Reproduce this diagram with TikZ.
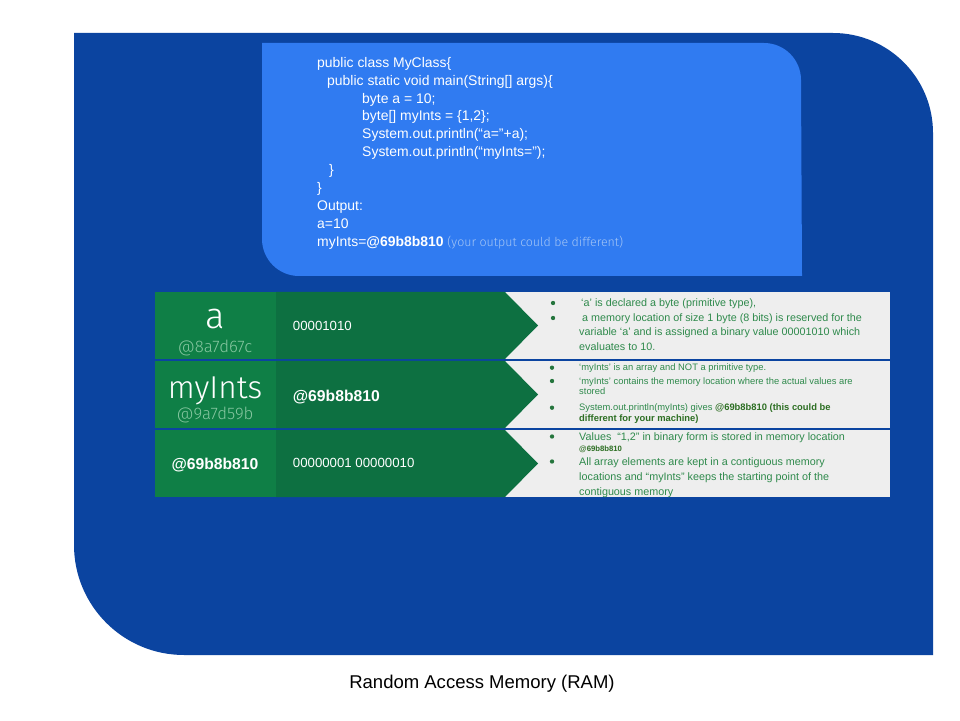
\documentclass[tikz,border=0pt]{standalone}
\usepackage{fontspec}
\setmainfont{Liberation Sans}
\IfFontExistsTF{Fira Sans Light}{\newfontfamily\lightfont{Fira Sans Light}}{%
  \IfFontExistsTF{Lato Light}{\newfontfamily\lightfont{Lato Light}}{%
    \newfontfamily\lightfont{Liberation Sans}}}

\definecolor{ramblue}{HTML}{0B44A0}
\definecolor{codeblue}{HTML}{307BF1}
\definecolor{namegreen}{HTML}{0F7F46}
\definecolor{valuegreen}{HTML}{0D7041}
\definecolor{notegray}{HTML}{EEEEEE}
\definecolor{notegreen}{HTML}{2F8A4C}
\definecolor{notedark}{HTML}{2C6E22}
\definecolor{dotgreen}{HTML}{25753D}
\definecolor{addrgreen}{HTML}{86C6A0}
\definecolor{hintblue}{HTML}{A5C6F6}

\newcommand{\fsz}[1]{\fontsize{#1}{#1}\selectfont}

\tikzset{
  codeline/.style={anchor=base west, inner sep=0, text=white, font=\fsz{11.9pt}},
  varname/.style={anchor=base, inner sep=0, text=white, font=\lightfont\fsz{27pt}},
  varaddr/.style={anchor=base, inner sep=0, text=addrgreen, font=\lightfont\fsz{14.3pt}},
  cellvalue/.style={anchor=base west, inner sep=0, text=white, font=\fsz{11.3pt}},
  cellbold/.style={anchor=base west, inner sep=0, text=white, font=\bfseries\fsz{13.4pt}},
  note/.style={anchor=base west, inner sep=0, text=notegreen, font=\fsz{9.2pt}},
  smallnote/.style={anchor=base west, inner sep=0, text=notegreen, font=\fsz{8pt}},
  dot/.style={circle, fill=dotgreen, inner sep=0, minimum size=0.13cm},
  valuearrow/.style={fill=valuegreen}
}

\begin{document}
\begin{tikzpicture}[x=0.03cm, y=0.03cm]
  \useasboundingbox (0,0) rectangle (960,720);
  \fill[white] (0,0) rectangle (960,720);

  \fill[ramblue] (74,687) -- (833,687) arc[start angle=90, end angle=0, radius=100]
    -- (933,65) -- (184,65) arc[start angle=270, end angle=180, radius=110] -- cycle;
  \fill[codeblue] (262,677) -- (764,677) arc[start angle=90, end angle=0, radius=37]
    -- (802,444) -- (299,444) arc[start angle=270, end angle=180, radius=37] -- cycle;

  \node[codeline] (c1) at (317,652.7) {public class MyClass\{};
  \node[codeline] (c2) at (327,634.8) {public static void main(String[] args)\{};
  \node[codeline] (c3) at (362,616.9) {byte a = 10;};
  \node[codeline] (c4) at (362,599.0) {byte[] myInts = \{1,2\};};
  \node[codeline] (c5) at (362,581.1) {System.out.println(“a=”+a);};
  \node[codeline] (c6) at (362,563.2) {System.out.println(“myInts=”);};
  \node[codeline] (c7) at (329,545.3) {\}};
  \node[codeline] (c8) at (317,527.4) {\}};
  \node[codeline] (c9) at (317,509.5) {Output:};
  \node[codeline] (c10) at (317,491.6) {a=10};
  \node[codeline] (c11) at (317,473.7) {myInts=\textbf{@69b8b810} {\lightfont\fsz{10.6pt}\color{hintblue}(your output could be different)}};

  \foreach \top/\bot in {428/361, 359/292, 290/223} {
    \fill[namegreen] (155,\top) rectangle (276,\bot);
    \fill[notegray] (505,\top) rectangle (890,\bot);
    \fill[valuearrow] (276,\top) -- (505,\top) -- (538,{(\top+\bot)/2}) -- (505,\bot) -- (276,\bot) -- cycle;
  }

  \node[varname, font=\lightfont\fsz{31pt}] (na) at (215,391.3) {a};
  \node[varaddr] (aa) at (215,367) {@8a7d67c};
  \node[cellvalue] (va) at (292.7,389.7) {00001010};
  \node[varname] (nm) at (215,322) {myInts};
  \node[varaddr] (am) at (215,300.3) {@9a7d59b};
  \node[cellbold] (vm) at (292.7,318.7) {@69b8b810};
  \node[cellbold, anchor=base] (nh) at (215,250.3) {@69b8b810};
  \node[cellvalue] (vh) at (292.7,253) {00000001 00000010};

  \node[note] (t1) at (581,413.7) {‘a’ is declared a byte (primitive type),};
  \node[note] (t2) at (582,398.7) {a memory location of size 1 byte (8 bits) is reserved for the};
  \node[note] (t3) at (579,384.3) {variable ‘a’ and is assigned a binary value 00001010 which};
  \node[note] (t4) at (579,369.3) {evaluates to 10.};

  \node[smallnote] (t5) at (579,349.3) {‘myInts’ is an array and NOT a primitive type.};
  \node[smallnote] (t6) at (579,336) {‘myInts’ contains the memory location where the actual values are};
  \node[smallnote] (t7) at (579,325.3) {stored};
  \node[smallnote] (t8) at (579,309.3) {System.out.println(myInts) gives {\bfseries\color{notedark}@69b8b810 (this could be}};
  \node[smallnote, text=notedark, font=\bfseries\fsz{8pt}] (t9) at (579,298.7) {different for your machine)};

  \node[note] (t10) at (579,280) {Values \ “1,2” in binary form is stored in memory location};
  \node[smallnote, text=notedark, font=\bfseries\fsz{6.6pt}] (t11) at (579,268.3) {@69b8b810};
  \node[note] (t12) at (579,255) {All array elements are kept in a contiguous memory};
  \node[note] (t13) at (579,240) {locations and “myInts” keeps the starting point of the};
  \node[note] (t14) at (579,225) {contiguous memory};

  \foreach \name/\x/\y in {d1/553/417, d2/553/402, d3/552/352.3, d4/552/339, d5/552/312.3, d6/552/283.5, d7/552/258.5}
    \node[dot] (\name) at (\x,\y) {};

  \node[anchor=base, inner sep=0, font=\fsz{15.8pt}] (ram) at (482,32) {Random Access Memory (RAM)};
\end{tikzpicture}
\end{document}
